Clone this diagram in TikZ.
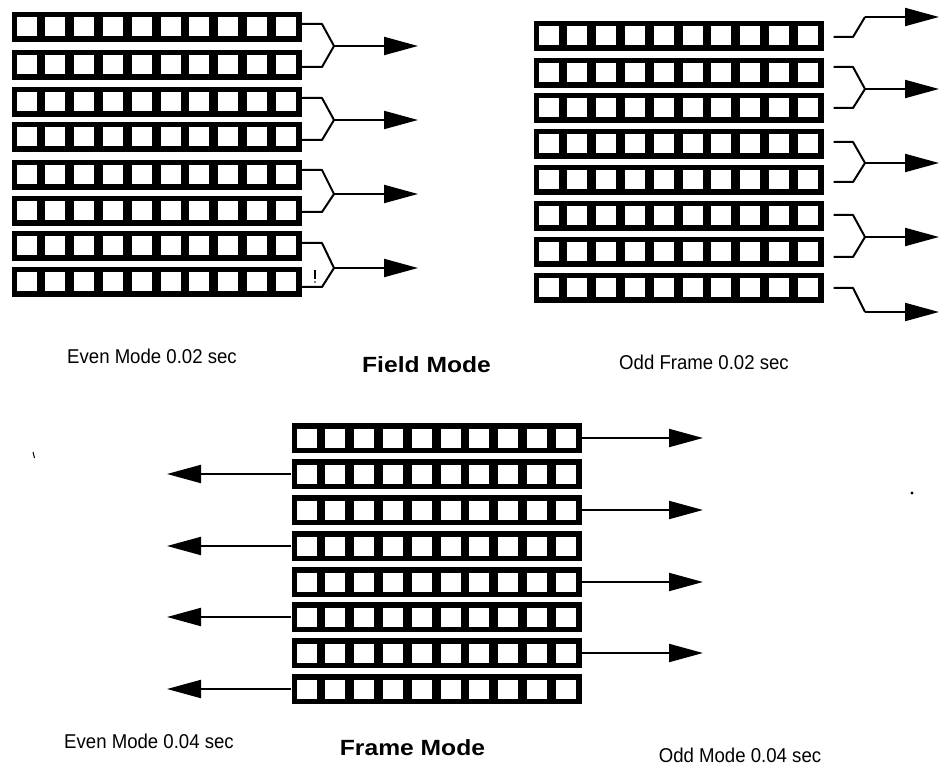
\documentclass[tikz,border=0pt]{standalone}
\usepackage{fontspec}
\setmainfont{Liberation Sans}
\newfontfamily\labfont[FakeStretch=0.93]{Liberation Sans}
\newfontfamily\titfont[FakeStretch=1.12]{Liberation Sans}
\usetikzlibrary{arrows.meta,calc}
\tikzset{
  pixrow/.style={rectangle, fill=black, inner sep=0pt, minimum width=290pt, minimum height=30pt,
    path picture={\foreach \i in {0,...,9}{\fill[white] ([xshift={5pt+\i*28.8pt}, yshift=-9.5pt]path picture bounding box.west) rectangle ++(20pt,19pt);}}},
  arr/.style={line width=2pt, -{Triangle[length=34pt,width=18pt]}},
  br/.style={line width=2pt, line join=round},
  lab/.style={inner sep=0pt, font=\labfont\fontsize{20}{24}\selectfont},
  tit/.style={inner sep=0pt, font=\titfont\bfseries\fontsize{22}{26}\selectfont}
}
\begin{document}
\begin{tikzpicture}[x=1pt,y=-1pt]
\useasboundingbox[fill=white] (0,0) rectangle (940,767);

% ---------- top-left block (even field) ----------
\foreach \n/\y in {1/27,2/65,3/102,4/137,5/175,6/211,7/246,8/282}
  \node[pixrow] (L\n) at (156.5,\y) {};
\foreach \a/\b/\ya/\yb/\ym/\k in {1/2/24/67/46/1, 3/4/98/140/120/2, 5/6/170/212/194/3, 7/8/243/287/268/4}{
  \coordinate (Lj\k) at (334,\ym);
  \coordinate (Lt\k) at (418,\ym);
  \draw[br] (L\a.east |- 0,\ya) -- (322,\ya) -- (Lj\k) -- (322,\yb) -- (L\b.east |- 0,\yb);
  \draw[arr] (Lj\k) -- (Lt\k);
}
\draw[line width=1.2pt] (315,270) -- (315,279);
\fill (315,282) circle (0.9);

% ---------- top-right block (odd field) ----------
\foreach \n/\y in {1/36,2/73,3/108,4/144,5/180,6/216,7/252,8/288}
  \node[pixrow] (R\n) at (678.5,\y) {};
% single first line
\coordinate (Rj0) at (865,17);
\coordinate (Rt0) at (939,17);
\draw[br] ($(R1.east |- 0,37)+(10,0)$) -- (853,37) -- (Rj0);
\draw[arr] (Rj0) -- (Rt0);
\foreach \a/\b/\ya/\yb/\ym/\k in {2/3/67/108/89/1, 4/5/142/182/163/2, 6/7/215/257/237/3}{
  \coordinate (Rj\k) at (865,\ym);
  \coordinate (Rt\k) at (939,\ym);
  \draw[br] ($(R\a.east |- 0,\ya)+(10,0)$) -- (853,\ya) -- (Rj\k) -- (853,\yb) -- ($(R\b.east |- 0,\yb)+(10,0)$);
  \draw[arr] (Rj\k) -- (Rt\k);
}
% single last line
\coordinate (Rj4) at (865,312);
\coordinate (Rt4) at (939,312);
\draw[br] ($(R8.east |- 0,288)+(10,0)$) -- (853,288) -- (Rj4);
\draw[arr] (Rj4) -- (Rt4);

% ---------- captions, field mode ----------
\node[lab] (evf) at (152,356) {Even Mode 0.02 sec};
\node[tit] (fm) at (426.5,365) {Field Mode};
\node[lab] (odf) at (704,362) {Odd Frame 0.02 sec};

% ---------- bottom block (frame mode) ----------
\foreach \n/\y in {1/438,2/474,3/510,4/546,5/582,6/617,7/653,8/689}
  \node[pixrow] (B\n) at (436.5,\y) {};
\foreach \n in {1,3,5,7}{
  \coordinate (Bt\n) at (703,0);
  \draw[arr] (B\n.east) -- (B\n.east -| Bt\n);
}
\foreach \n in {2,4,6,8}{
  \coordinate (Bt\n) at (167,0);
  \draw[arr] (B\n.west) -- (B\n.west -| Bt\n);
}

% ---------- captions, frame mode ----------
\node[lab] (evr) at (149,741) {Even Mode 0.04 sec};
\node[tit] (frm) at (412.5,748) {Frame Mode};
\node[lab] (odr) at (740,755) {Odd Mode 0.04 sec};

% scan specks
\draw[line width=1pt] (33,452) -- (34.5,458);
\fill (912,493) circle (1.6);
\end{tikzpicture}
\end{document}
